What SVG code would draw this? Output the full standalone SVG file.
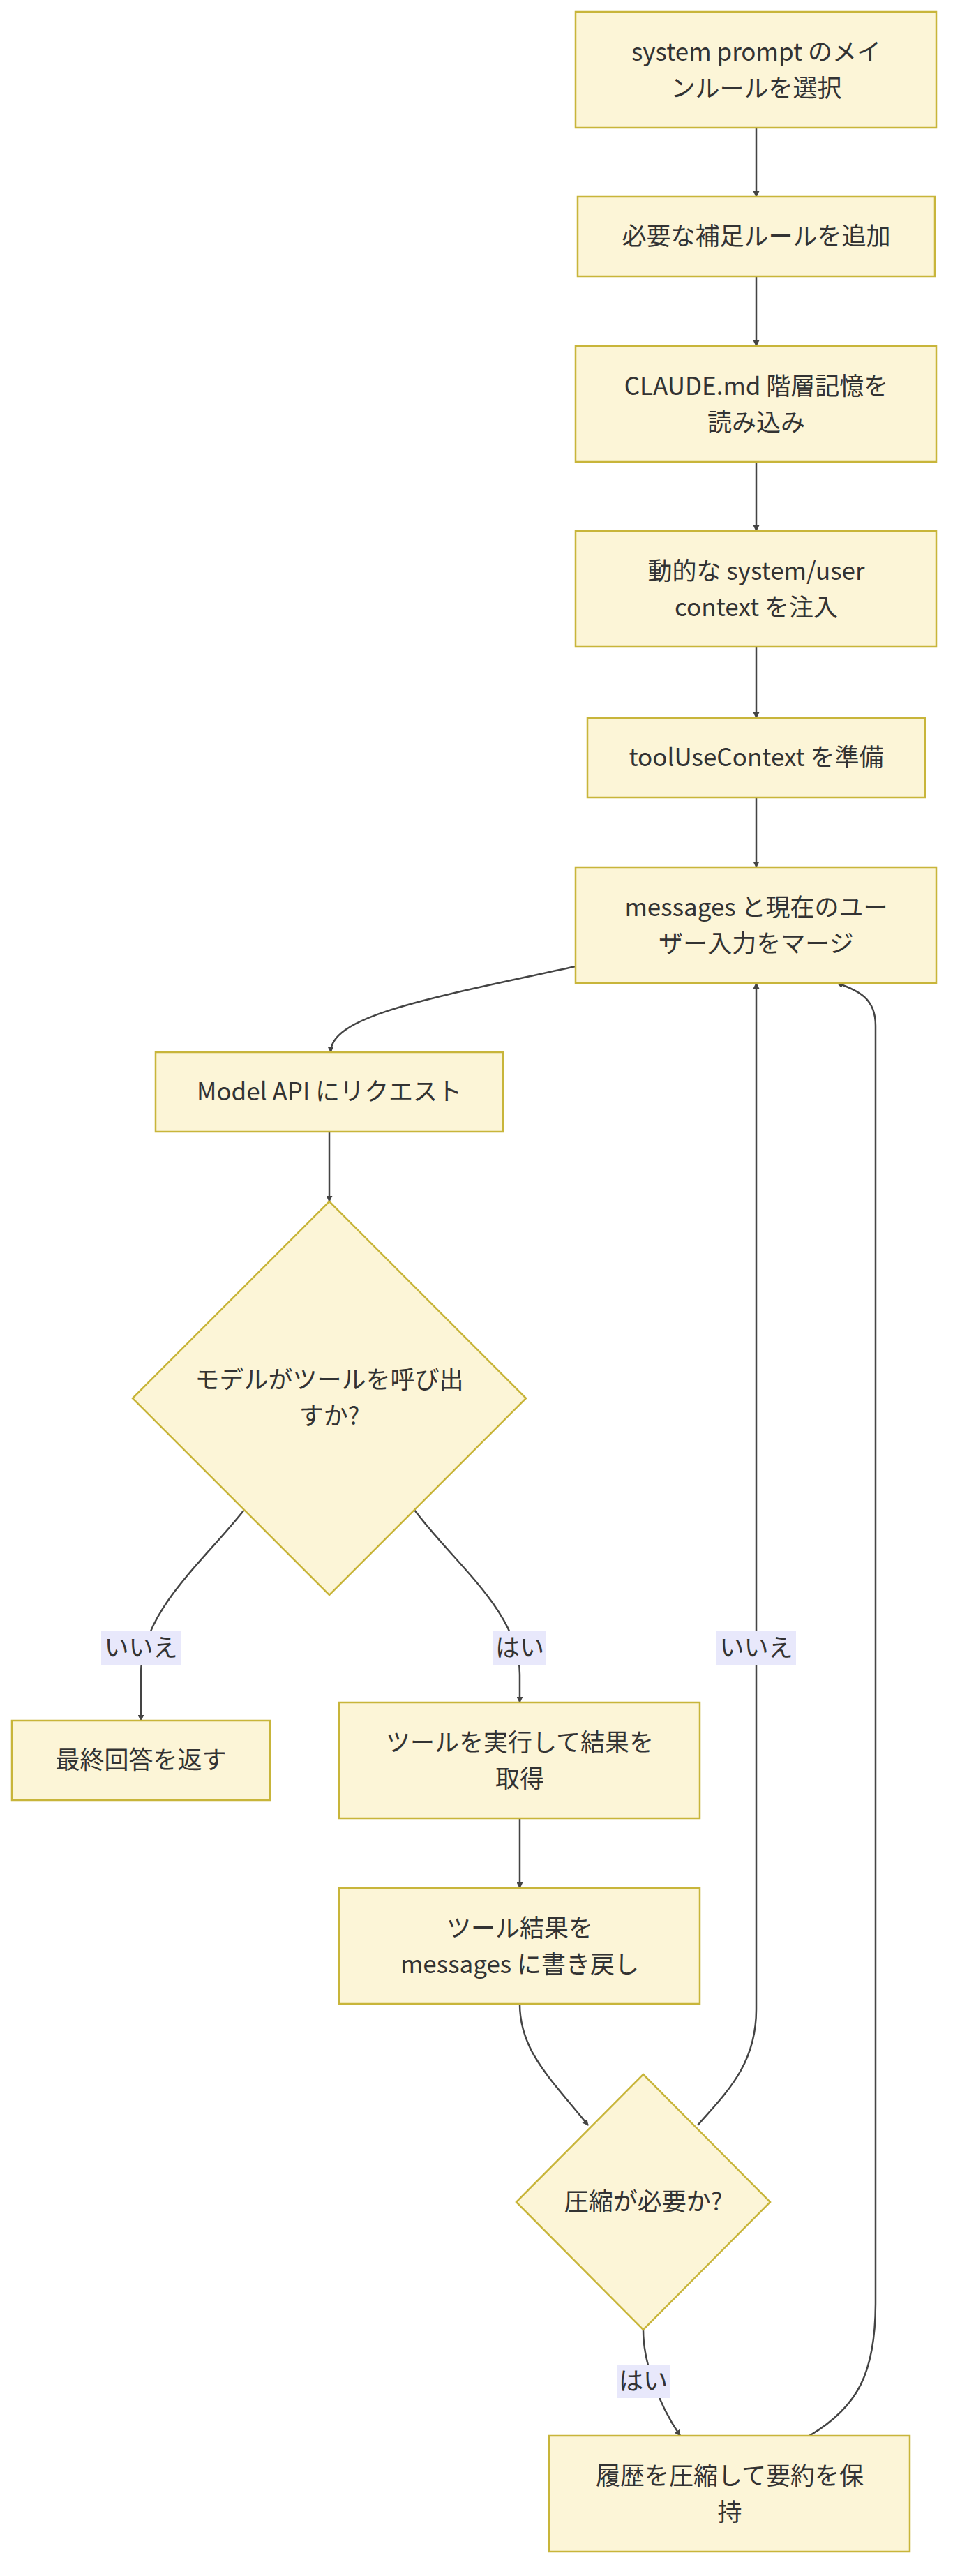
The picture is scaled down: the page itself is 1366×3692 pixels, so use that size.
<svg xmlns="http://www.w3.org/2000/svg" width="1366" height="3692" viewBox="0 0 1366 3692">
<defs>
<style>
.n{fill:#fcf5d7;stroke:#c8b53a;stroke-width:2.5}
.t{font-family:"Noto Sans CJK JP","Liberation Sans",sans-serif;font-size:35px;fill:#333;text-anchor:middle}
.e{fill:none;stroke:#444;stroke-width:2.5}
.lb{fill:#e8e8fb}
</style>
<marker id="a" viewBox="0 0 10 10" refX="9" refY="5" markerWidth="9" markerHeight="9" markerUnits="userSpaceOnUse" orient="auto-start-reverse"><path d="M0,0L10,5L0,10z" fill="#444"/></marker>
</defs>
<rect width="1366" height="3692" fill="#fff"/>
<g id="edges">
<path class="e" d="M1084,183V282" marker-end="url(#a)"/>
<path class="e" d="M1084,396V496" marker-end="url(#a)"/>
<path class="e" d="M1084,662V761" marker-end="url(#a)"/>
<path class="e" d="M1084,927V1029" marker-end="url(#a)"/>
<path class="e" d="M1084,1143V1243" marker-end="url(#a)"/>
<path class="e" d="M825,1385C620,1430 474,1455 474,1508" marker-end="url(#a)"/>
<path class="e" d="M472,1622V1722" marker-end="url(#a)"/>
<path class="e" d="M350,2164C290,2240 202,2310 202,2400V2466" marker-end="url(#a)"/>
<path class="e" d="M594,2164C650,2240 745,2310 745,2400V2440" marker-end="url(#a)"/>
<path class="e" d="M745,2606V2706" marker-end="url(#a)"/>
<path class="e" d="M745,2872C745,2940 790,2980 843,3046" marker-end="url(#a)"/>
<path class="e" d="M1000,3046C1040,3000 1084,2960 1084,2880V1409" marker-end="url(#a)"/>
<path class="e" d="M922,3340C922,3380 940,3440 975,3491" marker-end="url(#a)"/>
<path class="e" d="M1160,3491C1230,3450 1255,3400 1255,3300V1470C1255,1430 1230,1420 1200,1409" marker-end="url(#a)"/>
</g>
<g id="n1"><rect class="n" x="825" y="17" width="517" height="166"/><text class="t" x="1084" y="87">system prompt のメイ</text><text class="t" x="1084" y="139">ンルールを選択</text></g>
<g id="n2"><rect class="n" x="828" y="282" width="512" height="114"/><text class="t" x="1084" y="351">必要な補足ルールを追加</text></g>
<g id="n3"><rect class="n" x="825" y="496" width="517" height="166"/><text class="t" x="1084" y="566">CLAUDE.md 階層記憶を</text><text class="t" x="1084" y="618">読み込み</text></g>
<g id="n4"><rect class="n" x="825" y="761" width="517" height="166"/><text class="t" x="1084" y="831">動的な system/user</text><text class="t" x="1084" y="883">context を注入</text></g>
<g id="n5"><rect class="n" x="842" y="1029" width="484" height="114"/><text class="t" x="1084" y="1098">toolUseContext を準備</text></g>
<g id="n6"><rect class="n" x="825" y="1243" width="517" height="166"/><text class="t" x="1084" y="1313">messages と現在のユー</text><text class="t" x="1084" y="1365">ザー入力をマージ</text></g>
<g id="n7"><rect class="n" x="223" y="1508" width="498" height="114"/><text class="t" x="472" y="1577">Model API にリクエスト</text></g>
<g id="n8"><path class="n" d="M472,1722L754,2004L472,2286L190,2004Z"/><text class="t" x="472" y="1990">モデルがツールを呼び出</text><text class="t" x="472" y="2042">すか?</text></g>
<g id="l1"><rect class="lb" x="145" y="2338" width="114" height="48"/><text class="t" x="202" y="2374">いいえ</text></g>
<g id="l2"><rect class="lb" x="707" y="2338" width="76" height="48"/><text class="t" x="745" y="2374">はい</text></g>
<g id="l3"><rect class="lb" x="1027" y="2338" width="114" height="48"/><text class="t" x="1084" y="2374">いいえ</text></g>
<g id="n9"><rect class="n" x="17" y="2466" width="370" height="114"/><text class="t" x="202" y="2535">最終回答を返す</text></g>
<g id="n10"><rect class="n" x="486" y="2440" width="517" height="166"/><text class="t" x="745" y="2510">ツールを実行して結果を</text><text class="t" x="745" y="2562">取得</text></g>
<g id="n11"><rect class="n" x="486" y="2706" width="517" height="166"/><text class="t" x="745" y="2776">ツール結果を</text><text class="t" x="745" y="2828">messages に書き戻し</text></g>
<g id="n12"><path class="n" d="M922,2973L1104,3156L922,3339L740,3156Z"/><text class="t" x="922" y="3168">圧縮が必要か?</text></g>
<g id="l4"><rect class="lb" x="884" y="3389" width="76" height="48"/><text class="t" x="922" y="3425">はい</text></g>
<g id="n13"><rect class="n" x="787" y="3491" width="517" height="166"/><text class="t" x="1046" y="3561">履歴を圧縮して要約を保</text><text class="t" x="1046" y="3613">持</text></g>
</svg>
